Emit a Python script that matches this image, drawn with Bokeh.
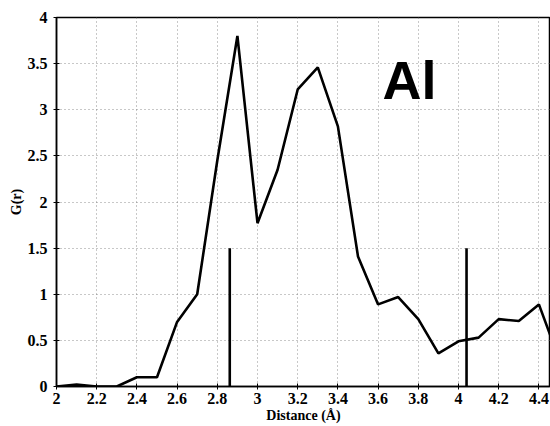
from bokeh.plotting import figure
from bokeh.models import FixedTicker, Range1d, Label
from bokeh.embed import file_html
from bokeh.resources import INLINE

# data
distance = [2.0, 2.1, 2.2, 2.3, 2.4, 2.5, 2.6, 2.7, 2.8, 2.9, 3.0, 3.1, 3.2, 3.3,
            3.4, 3.5, 3.6, 3.7, 3.8, 3.9, 4.0, 4.1, 4.2, 4.3, 4.4, 4.5]
g_r = [0.0, 0.02, 0.0, 0.0, 0.1, 0.1, 0.7, 1.0, 2.45, 3.8, 1.77, 2.35, 3.22, 3.46,
       2.82, 1.41, 0.89, 0.97, 0.73, 0.36, 0.49, 0.53, 0.73, 0.71, 0.89, 0.3]
marker_x = [2.862, 4.04]
marker_h = [1.5, 1.5]
x_ticks = [2.0, 2.2, 2.4, 2.6, 2.8, 3.0, 3.2, 3.4, 3.6, 3.8, 4.0, 4.2, 4.4]
x_labels = ["2", "2.2", "2.4", "2.6", "2.8", "3", "3.2", "3.4", "3.6", "3.8", "4", "4.2", "4.4"]
y_ticks = [0, 0.5, 1, 1.5, 2, 2.5, 3, 3.5, 4]
y_labels = ["0", "0.5", "1", "1.5", "2", "2.5", "3", "3.5", "4"]
element = "Al"

p = figure(width=550, height=426, output_backend="svg", toolbar_location=None,
           x_range=Range1d(2.0, 2 + 494 / 201), y_range=Range1d(0, 4),
           min_border_left=56, min_border_right=0, min_border_top=17, min_border_bottom=40)

p.line(distance, g_r, line_color="black", line_width=2.6)
p.segment(x0=marker_x, y0=[0] * len(marker_x), x1=marker_x, y1=marker_h,
          line_color="black", line_width=2.6)

p.add_layout(Label(x=3.622, y=3.0, text=element, text_font="Liberation Sans",
                   text_font_style="bold", text_font_size="54px", text_color="black"))

serif = "Liberation Serif"
p.xaxis.ticker = FixedTicker(ticks=x_ticks)
p.yaxis.ticker = FixedTicker(ticks=y_ticks)
p.xaxis.major_label_overrides = {t: l for t, l in zip(x_ticks, x_labels)}
p.yaxis.major_label_overrides = {t: l for t, l in zip(y_ticks, y_labels)}
for ax in (p.xaxis, p.yaxis):
    ax.major_label_text_font = serif
    ax.major_label_text_font_style = "bold"
    ax.major_label_text_font_size = "16px"
    ax.major_label_text_color = "black"
    ax.axis_label_text_font = serif
    ax.axis_label_text_font_style = "bold"
    ax.axis_label_text_font_size = "14px"
    ax.axis_label_text_color = "black"
    ax.axis_line_color = "black"
    ax.axis_line_width = 1.5
    ax.major_tick_line_color = "black"
    ax.major_tick_in = 3
    ax.major_tick_out = 3
    ax.minor_tick_line_color = None
p.xaxis.axis_label = "Distance (Å)"
p.yaxis.axis_label = "G(r)"
p.xaxis.major_label_standoff = 3
p.yaxis.major_label_standoff = 6
p.xaxis.axis_label_standoff = 1
p.yaxis.axis_label_standoff = 1

p.grid.grid_line_color = "#777777"
p.grid.grid_line_dash = "1 3"
p.grid.grid_line_width = 1
p.grid.grid_line_alpha = 0.8

p.outline_line_color = "black"
p.outline_line_width = 1.5
p.background_fill_color = "white"
p.border_fill_color = "white"

open("out.html", "w").write(file_html(p, INLINE))
